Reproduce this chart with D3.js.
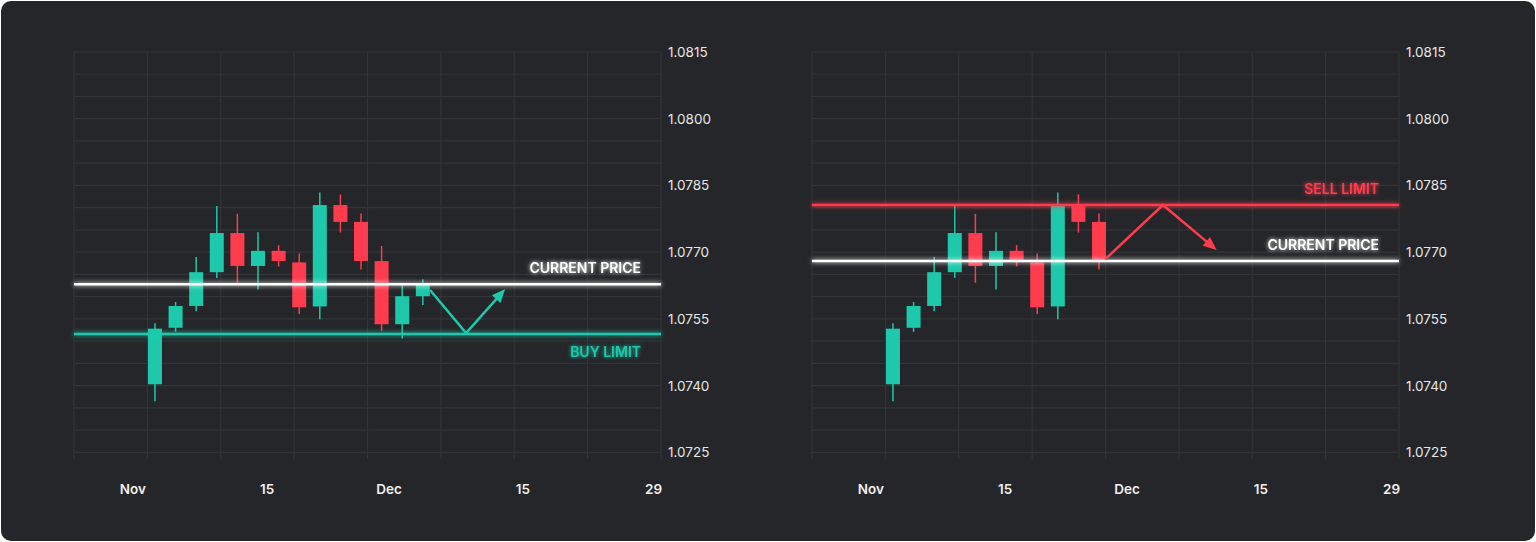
<!DOCTYPE html>
<html><head><meta charset="utf-8">
<script src="https://cdn.jsdelivr.net/npm/d3@7"></script>
<style>
body{margin:0;background:#fff;}
text{font-family:Inter,"Noto Sans",sans-serif;}
</style></head><body>
<script>
// candles: [open, close, high, low]
const candles = [
  [1.07403, 1.07528, 1.07540, 1.07365],
  [1.07530, 1.07579, 1.07588, 1.07521],
  [1.07579, 1.07655, 1.07689, 1.07567],
  [1.07655, 1.07743, 1.07804, 1.07642],
  [1.07743, 1.07669, 1.07786, 1.07631],
  [1.07669, 1.07703, 1.07745, 1.07616],
  [1.07703, 1.07680, 1.07716, 1.07668],
  [1.07677, 1.07576, 1.07697, 1.07561],
  [1.07578, 1.07806, 1.07834, 1.07549],
  [1.07806, 1.07768, 1.07830, 1.07744],
  [1.07768, 1.07680, 1.07787, 1.07661],
  [1.07680, 1.07538, 1.07714, 1.07523],
  [1.07538, 1.07601, 1.07626, 1.07506],
  [1.07601, 1.07627, 1.07639, 1.07581]
]
const yTicks = [1.0815, 1.0800, 1.0785, 1.0770, 1.0755, 1.0740, 1.0725]
const xTickLabels = ['Nov', '15', 'Dec', '15', '29']
const xTickPos = [-1.07, 5.44, 11.36, 17.86, 24.2]

const leftPanel = {
  count: 14, currentPrice: 1.07628, limit: 1.07516, limitLabel: 'BUY LIMIT',
  limitColor: '#1ec9ab', path: [[13.35, 1.07615], [15.1, 1.07518], [16.9, 1.07612]]
}
const rightPanel = {
  count: 11, currentPrice: 1.07680, limit: 1.07806, limitLabel: 'SELL LIMIT',
  limitColor: '#ff3b4e', path: [[10.3, 1.07684], [13.1, 1.07806], [15.6, 1.07709]]
}

const W = 1536, H = 542
const up = '#1ec9ab', down = '#ff3b4e'

const svg = d3.select('body').append('svg').attr('width', W).attr('height', H)
const defs = svg.append('defs')
function addGlow (id, sd) {
  const f = defs.append('filter').attr('id', id).attr('filterUnits', 'userSpaceOnUse')
    .attr('x', 0).attr('y', 0).attr('width', W).attr('height', H)
  f.append('feGaussianBlur').attr('stdDeviation', sd).attr('result', 'b')
  const m = f.append('feMerge')
  m.append('feMergeNode').attr('in', 'b')
  m.append('feMergeNode').attr('in', 'SourceGraphic')
}
addGlow('glow', 2.5)
addGlow('glowText', 2)

svg.append('rect').attr('x', 1).attr('y', 1).attr('width', W - 2).attr('height', H - 2)
  .attr('rx', 10).attr('fill', '#252629')

function drawPanel (cfg, offset) {
  const x = d3.scaleLinear().domain([-3.93, 24.56]).range([74 + offset, 661 + offset])
  const y = d3.scaleLinear().domain([1.07235, 1.0815]).range([459, 52])
  const g = svg.append('g')

  // grid
  const gy = d3.range(1.0815, 1.07230, -0.0005)
  g.selectAll('.hg').data(gy).enter().append('line')
    .attr('x1', x.range()[0]).attr('x2', x.range()[1])
    .attr('y1', d => y(d)).attr('y2', d => y(d))
    .attr('stroke', '#323438').attr('stroke-width', 1.2)
  const gx = d3.range(9).map(i => x.range()[0] + i * (x.range()[1] - x.range()[0]) / 8)
  g.selectAll('.vg').data(gx).enter().append('line')
    .attr('x1', d => d).attr('x2', d => d)
    .attr('y1', y.range()[1]).attr('y2', y.range()[0])
    .attr('stroke', '#323438').attr('stroke-width', 1.2)

  // y axis labels
  g.selectAll('.yl').data(yTicks).enter().append('text')
    .attr('x', x.range()[1] + 7).attr('y', d => y(d) + 5)
    .attr('fill', '#e6e6e6').attr('font-size', 13.5).text(d => d.toFixed(4))
  // x axis labels
  g.selectAll('.xl').data(xTickLabels).enter().append('text')
    .attr('x', (d, i) => x(xTickPos[i])).attr('y', 494)
    .attr('text-anchor', 'middle').attr('fill', '#f0f0f0')
    .attr('font-size', 13.5).attr('font-weight', 600).text(d => d)

  // candles
  const data = candles.slice(0, cfg.count)
  const cg = g.selectAll('.c').data(data).enter().append('g')
  cg.append('line')
    .attr('x1', (d, i) => x(i)).attr('x2', (d, i) => x(i))
    .attr('y1', d => y(d[2])).attr('y2', d => y(d[3]))
    .attr('stroke', d => d[1] >= d[0] ? up : down).attr('stroke-width', 1.5)
  cg.append('rect')
    .attr('x', (d, i) => x(i) - 7).attr('width', 14)
    .attr('y', d => y(Math.max(d[0], d[1])))
    .attr('height', d => Math.max(1, Math.abs(y(d[0]) - y(d[1]))))
    .attr('fill', d => d[1] >= d[0] ? up : down)

  // lines
  const hline = (v, color) => g.append('line')
    .attr('x1', x.range()[0]).attr('x2', x.range()[1])
    .attr('y1', y(v)).attr('y2', y(v))
    .attr('stroke', color).attr('stroke-width', 2.5).attr('filter', 'url(#glow)')
  hline(cfg.currentPrice, '#ffffff')
  hline(cfg.limit, cfg.limitColor)

  const isBuy = cfg.limit < cfg.currentPrice
  g.append('text').attr('x', x.range()[1] - 20)
    .attr('y', y(cfg.currentPrice) - 11)
    .attr('text-anchor', 'end').attr('fill', '#ffffff').attr('font-size', 14)
    .attr('font-weight', 600).attr('filter', 'url(#glowText)').text('CURRENT PRICE')
  g.append('text').attr('x', x.range()[1] - 20)
    .attr('y', isBuy ? y(cfg.limit) + 23 : y(cfg.limit) - 11)
    .attr('text-anchor', 'end').attr('fill', cfg.limitColor).attr('font-size', 14)
    .attr('font-weight', 600).attr('filter', 'url(#glowText)').text(cfg.limitLabel)

  // arrow path
  const pts = cfg.path.map(p => [x(p[0]), y(p[1])])
  g.append('path').attr('d', d3.line()(pts)).attr('fill', 'none')
    .attr('stroke', cfg.limitColor).attr('stroke-width', 2.5)
  const a = pts[pts.length - 2], b = pts[pts.length - 1]
  const ang = Math.atan2(b[1] - a[1], b[0] - a[0])
  const L = 12, s = 0.5
  const head = [
    [b[0] + 3 * Math.cos(ang), b[1] + 3 * Math.sin(ang)],
    [b[0] - L * Math.cos(ang - s), b[1] - L * Math.sin(ang - s)],
    [b[0] - L * Math.cos(ang + s), b[1] - L * Math.sin(ang + s)]
  ]
  g.append('path').attr('d', d3.line()(head) + 'Z').attr('fill', cfg.limitColor)
}

drawPanel(leftPanel, 0)
drawPanel(rightPanel, 738)
</script>
</body></html>
